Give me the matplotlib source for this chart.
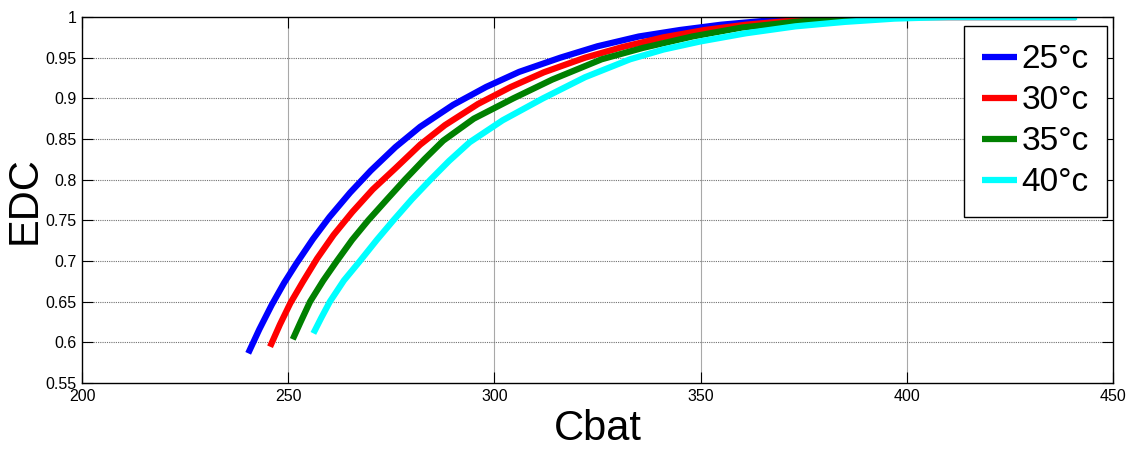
import matplotlib
matplotlib.use('Agg')
import matplotlib.pyplot as plt

# battery capacity vs. EDC, one curve per temperature
labels = ['25°c', '30°c', '35°c', '40°c']
colors = ['#0000ff', '#ff0000', '#008000', '#00ffff']

cbat_25 = [240.3, 243, 246, 249, 252, 256, 260, 265, 270, 276, 282, 290, 298, 306, 316,
           325, 335, 345, 355, 365, 375, 385, 441]
edc_25 = [0.5865, 0.616, 0.646, 0.673, 0.697, 0.727, 0.754, 0.784, 0.811, 0.840, 0.865,
          0.892, 0.914, 0.9325, 0.950, 0.964, 0.976, 0.984, 0.9905, 0.995, 0.9985, 1.0, 1.0]

cbat_30 = [245.6, 248, 250.5, 253.5, 257, 261, 265.5, 270.5, 276, 282, 288, 296, 304, 312,
           322, 331, 341, 351, 361, 371, 381, 391, 441]
edc_30 = [0.5946, 0.622, 0.648, 0.674, 0.703, 0.732, 0.760, 0.788, 0.814, 0.843, 0.867,
          0.893, 0.914, 0.932, 0.950, 0.963, 0.975, 0.984, 0.9905, 0.995, 0.9985, 1.0, 1.0]

cbat_35 = [251.1, 253, 255.3, 258.5, 261.8, 265.5, 269.4, 274, 278.3, 283, 287.6, 295, 304.6,
           314, 326, 336, 348, 360, 373, 385, 395, 441]
edc_35 = [0.6037, 0.625, 0.650, 0.676, 0.700, 0.726, 0.750, 0.776, 0.800, 0.825, 0.848,
          0.875, 0.900, 0.923, 0.948, 0.962, 0.976, 0.987, 0.994, 0.9985, 1.0, 1.0]

cbat_40 = [256.1, 258, 260.1, 263.5, 267.4, 271.5, 275.5, 280, 284.5, 289, 294, 302, 311.8,
           322, 332.9, 341, 350, 361, 373, 385, 397, 410, 441.3]
edc_40 = [0.611, 0.630, 0.650, 0.676, 0.700, 0.726, 0.750, 0.776, 0.800, 0.823, 0.846,
          0.873, 0.900, 0.926, 0.948, 0.960, 0.970, 0.980, 0.9885, 0.994, 0.998, 1.0, 1.0]

series = [(cbat_25, edc_25), (cbat_30, edc_30), (cbat_35, edc_35), (cbat_40, edc_40)]

xticks = [200, 250, 300, 350, 400, 450]
yticks = [0.55, 0.6, 0.65, 0.7, 0.75, 0.8, 0.85, 0.9, 0.95, 1]
ytick_labels = ['0.55', '0.6', '0.65', '0.7', '0.75', '0.8', '0.85', '0.9', '0.95', '1']

plt.rcParams['font.family'] = ['Liberation Sans', 'DejaVu Sans']

fig = plt.figure(figsize=(11.28, 4.53), dpi=100)
ax = fig.add_axes([0.0727, 0.1545, 0.914, 0.808])

for (x, y), c, lab in zip(series, colors, labels):
    ax.plot(x, y, color=c, linewidth=4.5, label=lab, solid_capstyle='butt',
            solid_joinstyle='round')

ax.set_xlim(200, 450)
ax.set_ylim(0.55, 1)
ax.set_xticks(xticks)
ax.set_yticks(yticks)
ax.set_yticklabels(ytick_labels)

# vertical grid looks solid, horizontal grid dotted
for xv in xticks[1:-1]:
    ax.axvline(xv, color='#a8a8a8', linewidth=0.8, zorder=0)
for yv in yticks[1:-1]:
    ax.axhline(yv, color='#707070', linewidth=0.8, linestyle=(0, (1, 1)), zorder=0)

ax.tick_params(direction='in', length=8, width=0.8, top=True, right=True,
               labelsize=11.5, pad=4)
for sp in ax.spines.values():
    sp.set_linewidth(1.0)

ax.set_xlabel('Cbat', fontsize=30, labelpad=4)
ax.set_ylabel('EDC', fontsize=30)
ax.yaxis.set_label_coords(-0.0553, 0.5)
ax.yaxis.label.set_va('center')

leg = ax.legend(loc='upper right', bbox_to_anchor=(0.9942, 0.9754), borderaxespad=0,
                prop={'size': 24}, handlelength=1.05, handletextpad=0.12,
                labelspacing=0.3, borderpad=0.55,
                fancybox=False, framealpha=1, edgecolor='black')
leg.get_frame().set_linewidth(1.0)

plt.savefig('out.png', dpi=100)
plt.close()
